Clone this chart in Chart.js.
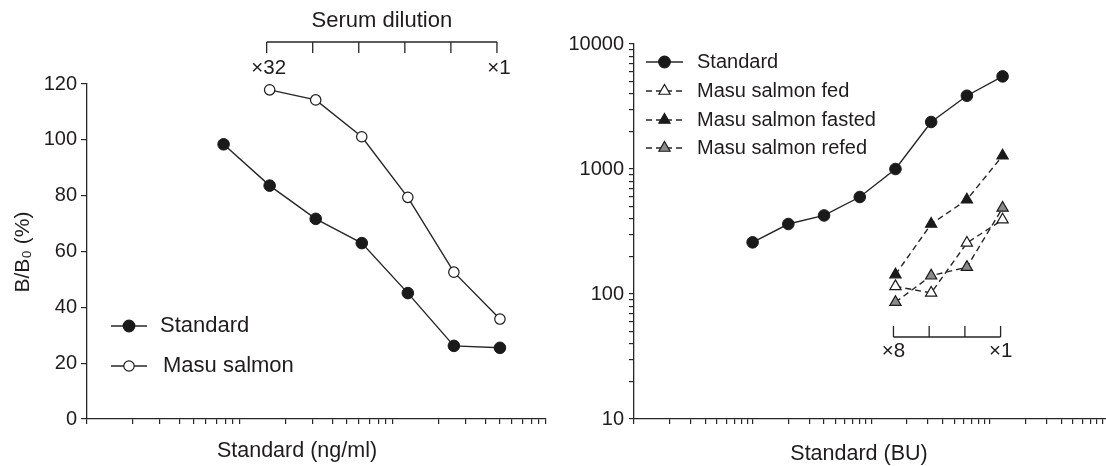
<!DOCTYPE html>
<html><head><meta charset="utf-8">
<script src="https://cdn.jsdelivr.net/npm/chart.js@4.4.1/dist/chart.umd.min.js"></script>
<style>
html,body{margin:0;padding:0;background:#fff;}
#wrap{position:relative;width:1106px;height:466px;overflow:hidden;background:#fff;}
#c1{position:absolute;left:0;top:0;}
#c2{position:absolute;left:560px;top:0;}
</style></head><body>
<div id="wrap"><canvas id="c1" width="560" height="466"></canvas><canvas id="c2" width="560" height="466"></canvas></div>
<script>
// ---------- data ----------
const leftStandardX = [0.078125, 0.15625, 0.3125, 0.625, 1.25, 2.5, 5];
const leftStandardY = [98.4, 83.6, 71.7, 63.0, 45.1, 26.2, 25.5];
const leftSalmonX = [0.15625, 0.3125, 0.625, 1.25, 2.5, 5];
const leftSalmonY = [117.9, 114.3, 101.1, 79.4, 52.6, 35.8];
const leftDilutionLabels = ['×32', '', '', '', '', '×1'];
const leftYTicks = [0, 20, 40, 60, 80, 100, 120];

const rightStandardX = [1, 2, 4, 8, 16, 32, 64, 128];
const rightStandardY = [259, 363, 425, 597, 1000, 2377, 3857, 5506];
const rightSalmonX = [16, 32, 64, 128];
const fedY = [115, 102, 256, 393];
const fastedY = [143, 363, 568, 1277];
const refedY = [86, 140, 164, 488];
const rightDilutionLabels = ['×8', '', '', '×1'];
const rightYTickLabels = [10, 100, 1000, 10000];

// ---------- style ----------
const TXT = '#1e1c1d';
const LINE = '#262626';
const FONT = '"Liberation Sans", Arial, Helvetica, sans-serif';

function logTickValues(lo, hi) {
  const out = [];
  for (let e = lo; e < hi; e++) for (let s = 1; s < 10; s++) out.push(+(s * Math.pow(10, e)).toPrecision(3));
  out.push(+Math.pow(10, hi).toPrecision(3));
  return out;
}
const pts = (xs, ys) => xs.map((x, i) => ({x: x, y: ys[i]}));

function drawMarker(ctx, style, x, y, r, fill) {
  ctx.save();
  ctx.setLineDash([]);
  ctx.fillStyle = fill; ctx.strokeStyle = '#1a1a1a'; ctx.lineWidth = 1.2;
  ctx.beginPath();
  if (style === 'circle') {
    ctx.arc(x, y, r, 0, Math.PI * 2);
  } else {
    ctx.moveTo(x, y - r);
    ctx.lineTo(x + r * 0.866, y + r * 0.5);
    ctx.lineTo(x - r * 0.866, y + r * 0.5);
    ctx.closePath();
  }
  ctx.fill(); ctx.stroke();
  ctx.restore();
}

function legendRow(ctx, x0, x1, y, dashed, style, r, fill, label, tx, size) {
  ctx.save();
  ctx.strokeStyle = LINE; ctx.lineWidth = 1.4;
  ctx.setLineDash(dashed ? [6, 4] : []);
  ctx.beginPath(); ctx.moveTo(x0, y); ctx.lineTo(x1, y); ctx.stroke();
  ctx.restore();
  drawMarker(ctx, style, (x0 + x1) / 2, y, r, fill);
  text(ctx, label, tx, y, size, 'left');
}

function text(ctx, s, x, y, size, align) {
  ctx.save();
  ctx.fillStyle = TXT; ctx.font = size + 'px ' + FONT;
  ctx.textAlign = align || 'center'; ctx.textBaseline = 'middle';
  ctx.fillText(s, x, y);
  ctx.restore();
}

// ---------- left chart ----------
const leftDeco = {
  id: 'leftDeco',
  afterDraw(chart) {
    const ctx = chart.ctx, xs = chart.scales.x;
    const px = leftSalmonX.map(v => xs.getPixelForValue(v) - 3);
    ctx.save();
    ctx.strokeStyle = LINE; ctx.lineWidth = 1.3;
    ctx.beginPath();
    ctx.moveTo(px[0], 42); ctx.lineTo(px[px.length - 1], 42);
    px.forEach(p => { ctx.moveTo(p, 42); ctx.lineTo(p, 53); });
    ctx.stroke();
    ctx.restore();
    px.forEach((p, i) => { if (leftDilutionLabels[i]) text(ctx, leftDilutionLabels[i], p + 2, 68, 20.5); });
    text(ctx, 'Serum dilution', (px[0] + px[px.length - 1]) / 2, 21, 22);
    // legend
    legendRow(ctx, 111, 147, 326, false, 'circle', 5.8, '#1a1a1a', 'Standard', 160, 22);
    legendRow(ctx, 111, 147, 366, false, 'circle', 5.2, '#ffffff', 'Masu salmon', 163, 22);
    // axis titles
    text(ctx, 'Standard (ng/ml)', 297, 451, 21.5);
    ctx.save();
    ctx.translate(23, 252); ctx.rotate(-Math.PI / 2);
    text(ctx, 'B/B₀ (%)', 0, 0, 21);
    ctx.restore();
  }
};

new Chart(document.getElementById('c1'), {
  type: 'line',
  data: { datasets: [
    { label: 'Standard', data: pts(leftStandardX, leftStandardY), borderColor: LINE, borderWidth: 1.4,
      pointRadius: 5.8, pointBackgroundColor: '#1a1a1a', pointBorderColor: '#1a1a1a', pointBorderWidth: 1, tension: 0 },
    { label: 'Masu salmon', data: pts(leftSalmonX, leftSalmonY), borderColor: LINE, borderWidth: 1.4,
      pointRadius: 5.2, pointBackgroundColor: '#ffffff', pointBorderColor: '#1a1a1a', pointBorderWidth: 1.2, tension: 0 }
  ]},
  options: {
    responsive: false, animation: false,
    layout: { padding: { top: 84, right: 14, left: 0, bottom: 0 } },
    plugins: { legend: { display: false }, tooltip: { enabled: false } },
    scales: {
      x: { type: 'logarithmic', min: 0.01, max: 10,
        afterBuildTicks: s => { s.ticks = logTickValues(-2, 1).map(v => ({ value: v })); },
        afterFit: s => { s.height = 47; },
        ticks: { display: false, autoSkip: false },
        grid: { drawOnChartArea: false, drawTicks: true, tickLength: 5, color: LINE, lineWidth: 1.2 },
        border: { color: LINE, width: 1.3 } },
      y: { type: 'linear', min: 0, max: 120,
        afterBuildTicks: s => { s.ticks = leftYTicks.map(v => ({ value: v })); },
        afterFit: s => { s.width = 87; },
        ticks: { color: TXT, font: { family: FONT, size: 20 }, padding: 4, autoSkip: false },
        grid: { drawOnChartArea: false, drawTicks: true, tickLength: 6, color: LINE, lineWidth: 1.2 },
        border: { color: LINE, width: 1.3 } }
    }
  },
  plugins: [leftDeco]
});

// ---------- right chart ----------
const rightDeco = {
  id: 'rightDeco',
  afterDraw(chart) {
    const ctx = chart.ctx, xs = chart.scales.x;
    const px = rightSalmonX.map(v => xs.getPixelForValue(v) - 2);
    const yl = 337;
    ctx.save();
    ctx.strokeStyle = LINE; ctx.lineWidth = 1.3;
    ctx.beginPath();
    ctx.moveTo(px[0], yl); ctx.lineTo(px[px.length - 1], yl);
    px.forEach(p => { ctx.moveTo(p, yl); ctx.lineTo(p, yl - 11); });
    ctx.stroke();
    ctx.restore();
    px.forEach((p, i) => { if (rightDilutionLabels[i]) text(ctx, rightDilutionLabels[i], p, 351, 20.5); });
    legendRow(ctx, 86, 123, 62, false, 'circle', 5.8, '#1a1a1a', 'Standard', 137, 20);
    legendRow(ctx, 86, 123, 91, true, 'tri', 6.5, '#ffffff', 'Masu salmon fed', 137, 20);
    legendRow(ctx, 86, 123, 120, true, 'tri', 6.5, '#1a1a1a', 'Masu salmon fasted', 137, 20);
    legendRow(ctx, 86, 123, 148, true, 'tri', 6.5, '#8a8a8a', 'Masu salmon refed', 137, 20);
    text(ctx, 'Standard (BU)', 299, 454, 21.5);
  }
};

const triDs = (label, ys, fill) => ({
  label: label, data: pts(rightSalmonX, ys), borderColor: LINE, borderWidth: 1.4, borderDash: [6, 4],
  pointStyle: 'triangle', pointRadius: 6.5, pointBackgroundColor: fill, pointBorderColor: '#1a1a1a',
  pointBorderWidth: 1.2, tension: 0
});

new Chart(document.getElementById('c2'), {
  type: 'line',
  data: { datasets: [
    { label: 'Standard', data: pts(rightStandardX, rightStandardY), borderColor: LINE, borderWidth: 1.4,
      pointRadius: 5.8, pointBackgroundColor: '#1a1a1a', pointBorderColor: '#1a1a1a', pointBorderWidth: 1, tension: 0 },
    triDs('Masu salmon fasted', fastedY, '#1a1a1a'),
    triDs('Masu salmon fed', fedY, '#ffffff'),
    triDs('Masu salmon refed', refedY, '#8a8a8a')
  ]},
  options: {
    responsive: false, animation: false,
    layout: { padding: { top: 44, right: 11.5, left: 0, bottom: 0 } },
    plugins: { legend: { display: false }, tooltip: { enabled: false } },
    scales: {
      x: { type: 'logarithmic', min: 0.1, max: 1000,
        afterBuildTicks: s => { s.ticks = logTickValues(-1, 3).map(v => ({ value: v })); },
        afterFit: s => { s.height = 47; },
        ticks: { display: false, autoSkip: false },
        grid: { drawOnChartArea: false, drawTicks: true, tickLength: 5, color: LINE, lineWidth: 1.2 },
        border: { color: LINE, width: 1.3 } },
      y: { type: 'logarithmic', min: 10, max: 10000,
        afterBuildTicks: s => { s.ticks = logTickValues(1, 4).map(v => ({ value: v })); },
        afterFit: s => { s.width = 74; },
        ticks: { color: TXT, font: { family: FONT, size: 20 }, padding: 5, autoSkip: false,
          callback: v => rightYTickLabels.includes(v) ? String(v) : '' },
        grid: { drawOnChartArea: false, drawTicks: true, tickLength: 5, color: LINE, lineWidth: 1.2 },
        border: { color: LINE, width: 1.3 } }
    }
  },
  plugins: [rightDeco]
});
</script>
</body></html>
